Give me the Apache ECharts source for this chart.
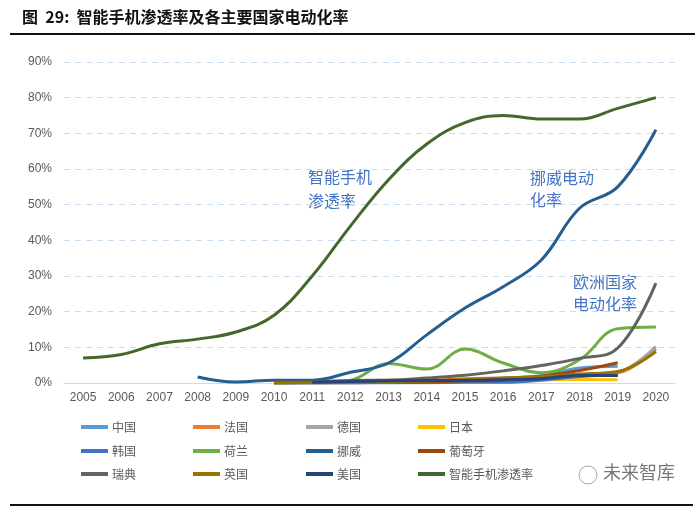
<!DOCTYPE html>
<html><head><meta charset="utf-8">
<script src="https://cdn.jsdelivr.net/npm/echarts@6/dist/echarts.min.js"></script>
<style>html,body{margin:0;padding:0;background:#fff}#c{width:700px;height:509px}</style>
</head><body><div id="c"></div>
<script>
var years = ['2005','2006','2007','2008','2009','2010','2011','2012','2013','2014','2015','2016','2017','2018','2019','2020'];
var yTicks = [0,10,20,30,40,50,60,70,80,90];
var N = null;
var china       = [N,N,N,N,N,0.0,0.0,0.1,0.1,0.3,0.8,1.3,2.1,4.2,4.7,N];
var france      = [N,N,N,N,N,0.0,0.2,0.6,0.8,0.7,1.2,1.4,1.7,2.1,2.8,9.5];
var germany     = [N,N,N,N,N,0.0,0.0,0.1,0.2,0.4,0.7,0.7,1.6,2.0,3.0,10.2];
var japan       = [N,N,N,N,N,0.1,0.4,0.5,0.6,0.6,0.6,0.6,1.0,1.0,0.9,N];
var korea       = [N,N,N,N,N,0.0,0.0,0.0,0.1,0.1,0.2,0.2,0.8,1.8,2.3,N];
var netherlands = [N,N,N,N,N,0.0,0.2,0.8,5.5,3.9,9.5,5.6,2.9,6.5,15.2,15.7];
var norway      = [N,N,N,1.7,0.3,0.8,0.8,3.0,5.6,13.5,21.0,27.0,34.5,49.0,55.0,71.0];
var portugal    = [N,N,N,N,N,0.2,0.2,0.3,0.2,0.3,0.6,0.8,1.9,3.5,5.7,N];
var sweden      = [N,N,N,N,N,0.0,0.3,0.7,0.8,1.4,2.2,3.4,4.9,6.9,9.8,28.0];
var uk          = [N,N,N,N,N,0.0,0.1,0.1,0.2,0.6,1.0,1.4,1.8,2.5,3.2,8.8];
var usa         = [N,N,N,N,N,N,0.2,0.4,0.6,0.7,0.7,0.9,1.2,2.1,2.1,N];
var smartphone  = [7.0,8.0,11.0,12.3,14.3,19.0,30.0,44.0,57.0,67.0,73.0,75.0,74.0,74.0,77.0,80.0];

var seriesDefs = [
  ['中国', china, '#5B9BD5'],
  ['法国', france, '#ED7D31'],
  ['德国', germany, '#A5A5A5'],
  ['日本', japan, '#FFC000'],
  ['韩国', korea, '#4472C4'],
  ['荷兰', netherlands, '#70AD47'],
  ['挪威', norway, '#255E91'],
  ['葡萄牙', portugal, '#9E480E'],
  ['瑞典', sweden, '#636363'],
  ['英国', uk, '#997300'],
  ['美国', usa, '#264478'],
  ['智能手机渗透率', smartphone, '#43682B']
];

var cjk = '"Noto Sans CJK SC", sans-serif';
var series = seriesDefs.map(function(d){
  return {name:d[0], type:'line', data:d[1], smooth:0.4, symbol:'none', connectNulls:false,
    lineStyle:{width:3, color:d[2]}, itemStyle:{color:d[2]}};
});

var colX = [81, 193, 306, 418];
var rowY = [421, 445, 468];
var legends = seriesDefs.map(function(d, i){
  return {data:[d[0]], left:colX[i%4], top:rowY[Math.floor(i/4)], padding:0,
    itemWidth:27, itemHeight:4, itemGap:0, icon:'rect',
    textStyle:{color:'#595959', fontSize:12, fontFamily:cjk, padding:[0,0,0,-1]}};
});

var chart = echarts.init(document.getElementById('c'));
chart.setOption({
  animation:false,
  backgroundColor:'#fff',
  grid:{left:64, right:25, top:62, bottom:126},
  legend:legends,
  xAxis:{type:'category', data:years, boundaryGap:true,
    axisLine:{lineStyle:{color:'#d9d9d9', width:1}}, axisTick:{show:false},
    axisLabel:{color:'#595959', fontSize:12, fontFamily:'"Liberation Sans", Arial, sans-serif', margin:9}},
  yAxis:{type:'value', min:yTicks[0], max:yTicks[yTicks.length-1], interval:10,
    axisLine:{show:false}, axisTick:{show:false},
    axisLabel:{color:'#595959', fontSize:12, fontFamily:'"Liberation Sans", Arial, sans-serif', formatter:'{value}%', margin:12},
    splitLine:{lineStyle:{color:'#C5DCF2', type:[6,5], width:1}}},
  series:series,
  graphic:[
    {type:'text', left:22, top:9, style:{text:'图  29:  智能手机渗透率及各主要国家电动化率', fontSize:16, fontWeight:'bold', fill:'#111', fontFamily:cjk}},
    {type:'line', shape:{x1:10, y1:34, x2:695, y2:34}, style:{stroke:'#111', lineWidth:2}},
    {type:'line', shape:{x1:10, y1:505, x2:693, y2:505}, style:{stroke:'#111', lineWidth:2}},
    {type:'text', left:308, top:165, style:{text:'智能手机\n渗透率', fontSize:16, lineHeight:24, fill:'#4472C4', fontFamily:cjk}},
    {type:'text', left:530, top:167, style:{text:'挪威电动\n化率', fontSize:16, lineHeight:22, fill:'#4472C4', fontFamily:cjk}},
    {type:'text', left:573, top:271, style:{text:'欧洲国家\n电动化率', fontSize:16, lineHeight:22, fill:'#4472C4', fontFamily:cjk}},
    {type:'circle', shape:{cx:588, cy:475, r:9}, style:{fill:'rgba(255,255,255,0.6)', stroke:'rgba(90,90,90,0.55)', lineWidth:1}},
    {type:'text', left:603, top:463, style:{text:'未来智库', fontSize:18, fill:'rgba(60,60,60,0.7)', fontFamily:cjk}}
  ]
});
</script></body></html>
